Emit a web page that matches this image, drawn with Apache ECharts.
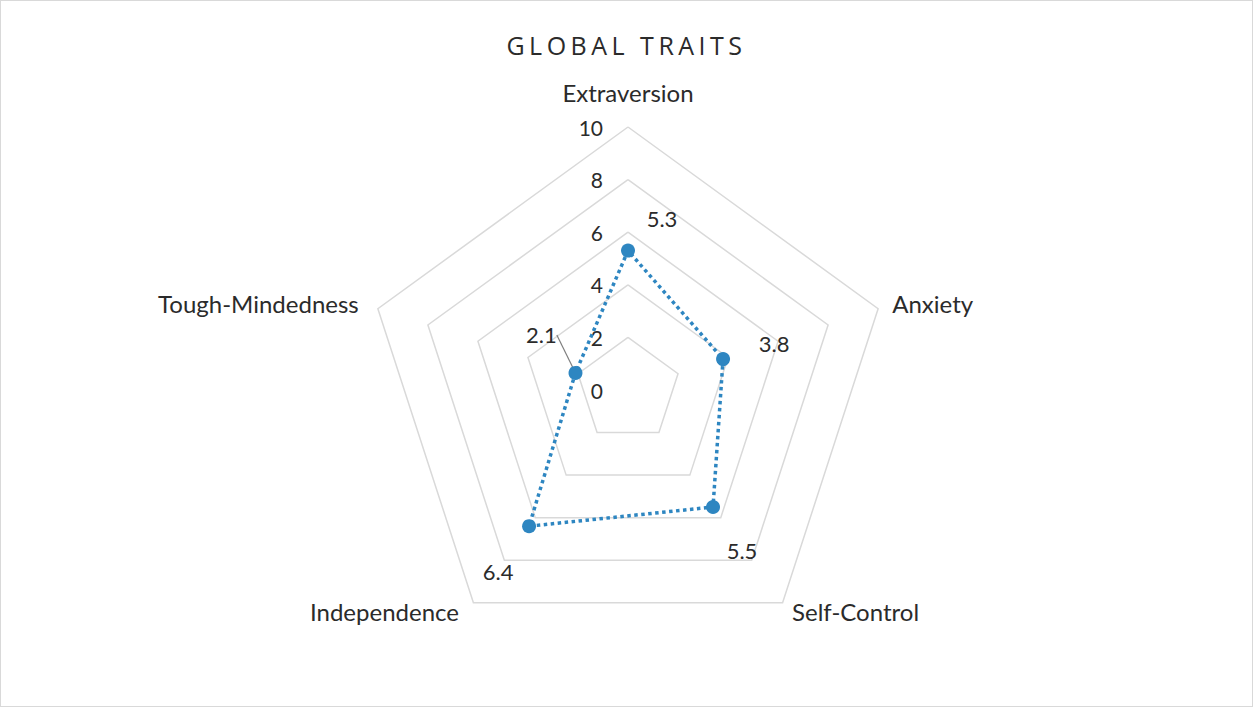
<!DOCTYPE html>
<html><head><meta charset="utf-8">
<script src="https://cdn.jsdelivr.net/npm/echarts@6/dist/echarts.min.js"></script>
<style>
html,body{margin:0;padding:0;background:#fff;}
#chart{position:absolute;left:0;top:0;width:1253px;height:707px;box-sizing:border-box;border:1px solid #d9d9d9;}
#chart svg text[style*="Open Sans"]{letter-spacing:4.5px;}
</style></head><body><div id="chart"></div>
<script>
// ---- data (Excel clockwise order, starting at top) ----
const TITLE = 'GLOBAL TRAITS';
const CATEGORIES = ['Extraversion', 'Anxiety', 'Self-Control', 'Independence', 'Tough-Mindedness'];
const VALUES = [5.3, 3.8, 5.5, 6.4, 2.1];
const AXIS_MIN = 0;
const AXIS_MAX = 10;
const AXIS_SPLITS = 5;

// ---- layout / style config ----
const CENTER = [627, 389];
const RADIUS = 263;
const LABEL_OFFSETS = [[34, -32], [51, -16], [29, 43], [-31, 45], [-34, -38]];
const NAME_GAPS = [23, 18, 11, 11, 18];
const NAME_PADDING = [[0, 0, 0, 0], [0, 0, 0, -3], [0, 0, 0, 3], [0, 8, 0, 0], [0, 2, 0, 0]];
const LEADER_INDEX = 4; // the label that Excel drew with a leader line
const TEXT_COLOR = '#2b2b2b';
const FONT = 'Lato';

// ECharts radar runs counter-clockwise; Excel runs clockwise -> reorder
const order = [0].concat(CATEGORIES.map((_, i) => i).slice(1).reverse());

const indicators = order.map((i, k) => ({
  name: CATEGORIES[i], min: AXIS_MIN, max: AXIS_MAX,
  nameGap: NAME_GAPS[i],
  nameTextStyle: { padding: NAME_PADDING[i] },
  axisLabel: { show: k === 0 }
}));
const values = order.map(i => VALUES[i]);
const leaderValues = order.map(i => (i === LEADER_INDEX ? VALUES[i] : '-'));

function placeLabel(p) {
  const px = p.rect.x + p.rect.width / 2;
  const py = p.rect.y + p.rect.height / 2;
  const dx = px - CENTER[0], dy = py - CENTER[1];
  if (Math.abs(dx) < 1 && Math.abs(dy) < 1) {
    // empty (missing) vertex of the leader-line helper series
    return { x: px, y: py, fontSize: 1 };
  }
  let th = Math.atan2(dx, -dy);
  if (th < 0) th += Math.PI * 2;
  const idx = Math.round(th / (Math.PI * 2 / CATEGORIES.length)) % CATEGORIES.length;
  const off = LABEL_OFFSETS[idx];
  return { x: px + off[0], y: py + off[1], align: 'center', verticalAlign: 'middle' };
}

const chart = echarts.init(document.getElementById('chart'), null, { renderer: 'svg' });
chart.setOption({
  animation: false,
  backgroundColor: '#ffffff',
  title: {
    text: TITLE, left: 'center', top: 26,
    textStyle: { fontFamily: 'Open Sans', fontSize: 25, fontWeight: 'normal', color: TEXT_COLOR }
  },
  radar: {
    center: CENTER,
    radius: RADIUS,
    startAngle: 90,
    splitNumber: AXIS_SPLITS,
    shape: 'polygon',
    indicator: indicators,
    nameGap: 18,
    axisName: { color: TEXT_COLOR, fontSize: 24, fontFamily: FONT },
    axisLine: { show: false },
    axisTick: { show: false },
    axisLabel: { show: false, color: TEXT_COLOR, fontSize: 21, fontFamily: FONT, margin: 25 },
    splitLine: { lineStyle: { color: '#d9d9d9', width: 1.5 } },
    splitArea: { show: false }
  },
  series: [{
    type: 'radar',
    z: 3,
    symbol: 'circle',
    symbolSize: 14,
    itemStyle: { color: '#2e86c1' },
    lineStyle: { type: 'dotted', width: 3.5, color: '#2e86c1' },
    label: { show: true, color: TEXT_COLOR, fontSize: 22, fontFamily: FONT },
    labelLayout: placeLabel,
    data: [{ name: TITLE, value: values }]
  }, {
    // leader line only (Excel draws one for the moved 2.1 label)
    type: 'radar',
    z: 2,
    symbol: 'circle',
    symbolSize: 1,
    silent: true,
    itemStyle: { color: 'rgba(0,0,0,0)' },
    lineStyle: { width: 0, opacity: 0 },
    label: { show: true, color: 'rgba(0,0,0,0)', fontSize: 22, fontFamily: FONT },
    labelLine: { show: true, lineStyle: { color: '#7f7f7f', width: 1.2, opacity: 1 } },
    labelLayout: placeLabel,
    data: [{ name: 'leader', value: leaderValues }]
  }]
});
</script></body></html>
